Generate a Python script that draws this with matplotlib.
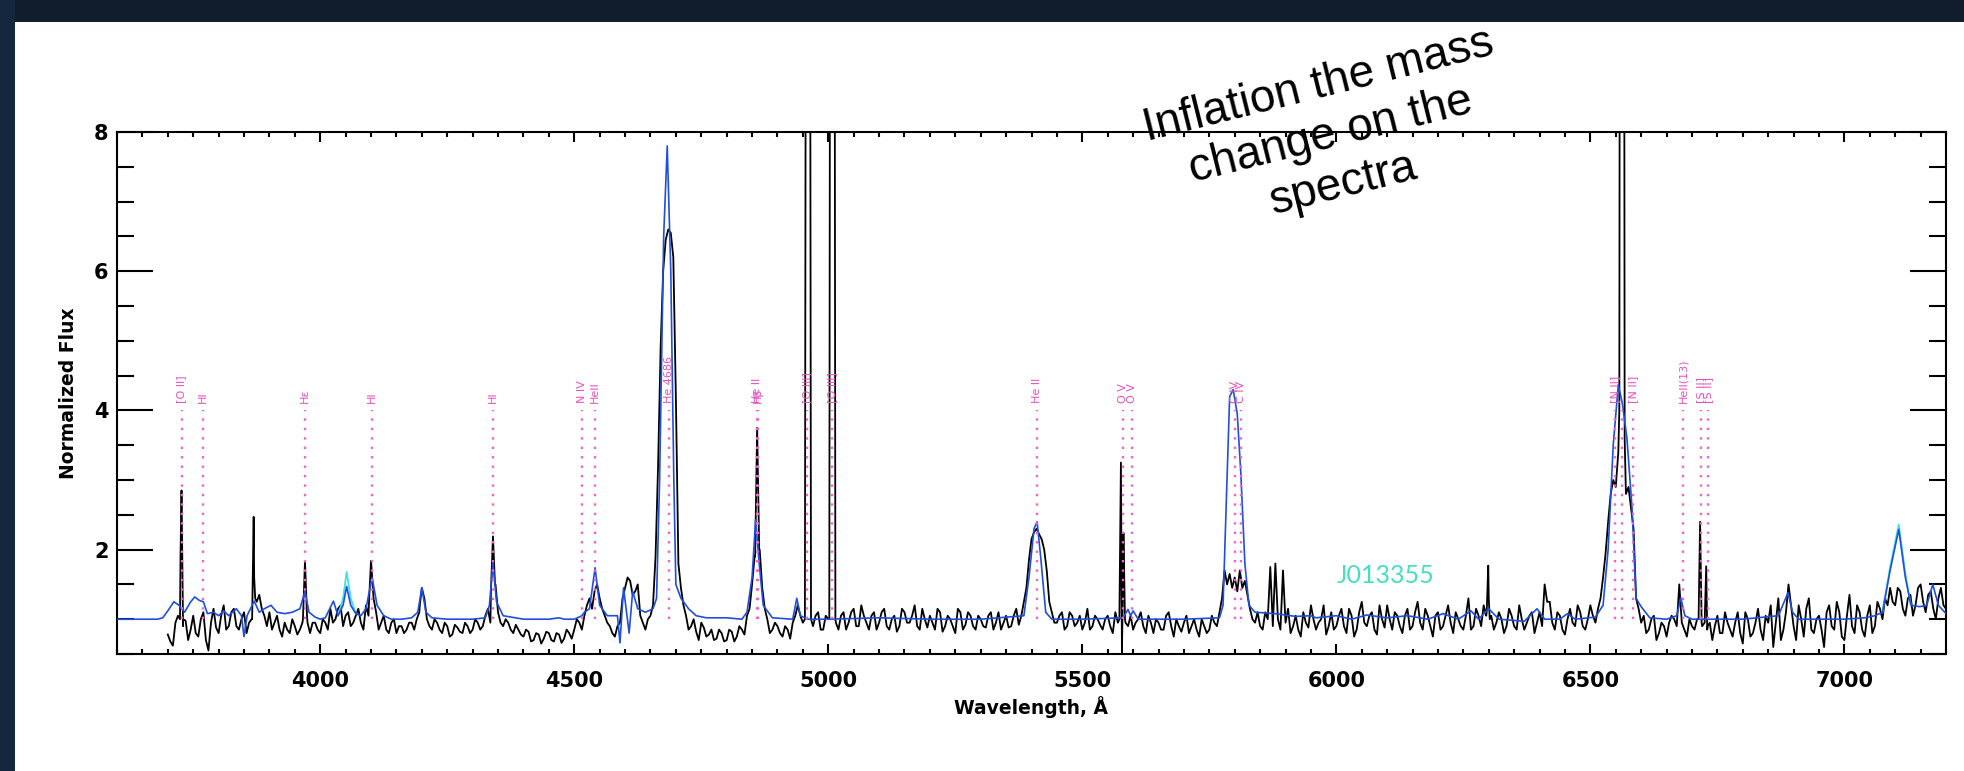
import matplotlib
matplotlib.use("Agg")
import matplotlib.pyplot as plt
from matplotlib.patches import Rectangle
from matplotlib.ticker import MultipleLocator
import numpy as np

# observed spectrum, 10 A grid from 3700 to 7200
grid_start, grid_step = 3700, 10
black_grid = [
    0.78, 0.62, 1.05, 0.90, 0.70, 1.05, 0.75, 1.10, 0.55, 1.15,   # 3700
    0.80, 1.20, 0.90, 1.15, 0.85, 1.10, 0.95, 1.60, 1.35, 1.05,   # 3800
    1.10, 0.95, 0.85, 0.95, 0.80, 0.90, 0.85, 1.83, 0.80, 0.95,   # 3900
    0.80, 0.95, 1.15, 1.00, 1.20, 1.05, 0.90, 1.05, 0.95, 1.20,   # 4000
    1.84, 1.10, 0.95, 0.85, 0.95, 0.80, 0.90, 0.85, 0.95, 1.00,   # 4100
    1.45, 1.00, 0.85, 0.95, 0.80, 0.90, 0.78, 0.88, 0.80, 0.90,   # 4200
    0.85, 0.95, 0.90, 1.15, 2.19, 1.10, 0.90, 0.95, 0.80, 0.85,   # 4300
    0.75, 0.82, 0.70, 0.78, 0.72, 0.80, 0.68, 0.78, 0.72, 0.80,   # 4400
    0.85, 0.95, 1.05, 1.30, 1.40, 1.30, 1.05, 0.90, 0.75, 0.95,   # 4500
    1.45, 1.55, 1.40, 1.05, 0.85, 1.05, 1.90, 4.90, 6.45, 6.55,   # 4600
    4.20, 1.45, 1.05, 0.90, 0.82, 0.95, 0.75, 0.85, 0.72, 0.80,   # 4700
    0.70, 0.82, 0.75, 0.85, 1.05, 1.50, 3.75, 1.45, 1.00, 0.85,   # 4800
    0.90, 0.75, 0.85, 0.95, 1.20, 0.95, 12.0, 0.90, 1.10, 0.85,   # 4900
    1.00, 14.0, 0.85, 1.10, 0.95, 1.15, 0.90, 1.05, 0.85, 1.10,   # 5000
    0.95, 1.15, 0.85, 1.05, 0.90, 1.10, 0.95, 1.20, 0.85, 1.00,   # 5100
    1.05, 0.85, 1.10, 0.90, 1.00, 0.80, 1.10, 0.92, 1.05, 0.85,   # 5200
    1.00, 0.88, 1.10, 0.95, 0.85, 1.05, 0.90, 1.15, 1.05, 1.45,   # 5300
    2.15, 2.30, 2.15, 1.70, 1.10, 0.95, 1.10, 0.90, 1.05, 0.95,   # 5400
    0.85, 1.15, 0.90, 1.00, 0.85, 1.05, 0.80, 0.95, 1.50, 0.90,   # 5500
    0.85, 1.00, 0.90, 1.05, 0.80, 0.95, 0.85, 1.10, 0.75, 0.90,   # 5600
    0.95, 0.80, 1.00, 0.75, 0.90, 0.85, 0.95, 1.10, 1.70, 1.65,   # 5700
    1.60, 1.70, 1.55, 1.15, 0.95, 0.90, 1.10, 1.75, 1.80, 0.85,   # 5800
    0.95, 0.80, 1.05, 0.75, 0.95, 1.20, 0.85, 1.00, 0.78, 1.10,   # 5900
    0.90, 1.15, 0.80, 1.05, 0.85, 1.25, 0.90, 1.10, 0.78, 1.00,   # 6000
    1.20, 0.85, 1.05, 0.80, 1.15, 0.90, 1.25, 0.85, 1.05, 0.75,   # 6100
    1.10, 0.90, 1.20, 0.80, 1.00, 0.85, 1.30, 0.90, 1.05, 1.20,   # 6200
    1.30, 0.85, 1.10, 0.80, 1.15, 0.90, 1.20, 0.85, 1.05, 0.80,   # 6300
    1.10, 1.50, 1.25, 0.85, 1.05, 0.78, 1.15, 0.90, 1.10, 0.85,   # 6400
    1.20, 0.95, 1.30, 1.95, 2.80, 2.90, 15.0, 2.80, 2.60, 1.30,   # 6500
    0.95, 0.80, 1.00, 0.70, 0.95, 0.75, 1.05, 0.90, 0.95, 0.75,   # 6600
    0.90, 1.00, 0.90, 0.85, 0.70, 1.05, 0.80, 0.95, 0.75, 1.10,   # 6700
    0.65, 1.00, 0.80, 1.15, 0.70, 0.95, 0.60, 1.30, 0.85, 1.50,   # 6800
    0.90, 1.20, 0.75, 1.30, 0.80, 1.05, 0.60, 1.20, 0.85, 1.10,   # 6900
    0.70, 1.35, 0.80, 1.10, 0.75, 1.20, 0.90, 1.15, 1.30, 1.45,   # 7000
    1.20, 1.40, 1.05, 1.35, 1.20, 1.50, 1.10, 1.40, 1.00, 1.45,   # 7100
    1.15,
]

# observed spectrum, in-between samples at 3705, 3715, ... 7195
mid_start = 3705
black_mid = [
    0.68, 0.95, 1.90, 0.98, 0.85, 0.80, 1.00, 0.70, 0.95, 0.88,   # 3705
    1.05, 0.85, 1.10, 0.90, 1.00, 0.80, 1.00, 1.25, 1.15, 0.90,   # 3805
    0.85, 1.05, 0.75, 0.85, 1.00, 0.78, 0.95, 0.95, 0.95, 0.85,   # 3905
    1.00, 0.85, 0.95, 1.15, 0.90, 1.10, 0.95, 1.15, 0.85, 1.05,   # 4005
    1.30, 0.85, 1.05, 0.80, 1.00, 0.90, 0.80, 0.95, 0.85, 1.10,   # 4105
    1.30, 0.90, 1.00, 0.85, 0.95, 0.75, 0.92, 0.82, 0.95, 0.80,   # 4205
    1.00, 0.85, 1.05, 0.95, 1.50, 0.95, 1.00, 0.85, 0.92, 0.78,   # 4305
    0.85, 0.68, 0.80, 0.65, 0.82, 0.70, 0.80, 0.66, 0.85, 0.72,   # 4405
    1.00, 0.85, 1.20, 1.15, 1.50, 1.15, 0.95, 0.80, 0.90, 1.30,   # 4505
    1.60, 1.35, 1.50, 0.95, 1.00, 1.20, 3.20, 6.00, 6.60, 6.20,   # 4605
    1.80, 1.20, 0.85, 1.00, 0.70, 0.88, 0.78, 0.70, 0.85, 0.68,   # 4705
    0.85, 0.68, 0.90, 0.78, 1.15, 1.90, 2.00, 1.15, 0.80, 0.95,   # 4805
    0.80, 0.90, 0.72, 1.05, 1.05, 6.50, 6.50, 1.05, 0.85, 1.05,   # 4905
    14.0, 0.95, 1.05, 0.85, 1.10, 0.90, 1.20, 0.95, 1.05, 0.85,   # 5005
    1.10, 0.90, 1.00, 0.82, 1.15, 0.95, 1.05, 0.90, 1.15, 0.88,   # 5105
    0.95, 1.15, 0.82, 1.05, 0.90, 1.15, 0.85, 1.10, 0.90, 1.05,   # 5205
    0.90, 1.05, 0.85, 1.10, 0.95, 0.88, 1.05, 0.92, 1.25, 1.85,   # 5305
    2.25, 2.22, 2.00, 1.25, 0.95, 1.05, 0.85, 1.10, 0.90, 1.05,   # 5405
    0.95, 0.85, 1.05, 0.92, 1.00, 0.90, 1.10, 2.50, 0.95, 1.05,   # 5505
    0.95, 1.10, 0.80, 0.95, 1.00, 0.85, 1.05, 0.90, 1.00, 0.82,   # 5605
    1.05, 0.90, 0.85, 1.00, 0.80, 1.05, 0.90, 1.30, 1.50, 1.45,   # 5705
    1.40, 1.45, 1.35, 1.00, 1.10, 0.85, 1.00, 0.90, 1.00, 1.70,   # 5805
    1.15, 0.90, 0.85, 1.10, 0.88, 1.00, 0.95, 1.20, 0.90, 0.85,   # 5905
    1.05, 0.90, 1.15, 0.75, 1.10, 0.95, 1.05, 0.85, 1.20, 0.88,   # 6005
    1.00, 1.10, 0.90, 1.05, 0.85, 1.10, 0.95, 1.15, 0.90, 1.05,   # 6105
    0.85, 1.05, 0.95, 1.10, 0.90, 1.05, 0.85, 1.15, 0.90, 1.05,   # 6205
    1.05, 0.95, 1.00, 0.90, 1.05, 0.85, 1.00, 0.95, 1.10, 0.95,   # 6305
    0.90, 1.25, 0.95, 1.10, 0.85, 1.00, 0.95, 1.20, 0.90, 1.00,   # 6405
    1.05, 1.15, 1.60, 2.40, 3.00, 3.40, 15.0, 2.90, 2.30, 1.15,   # 6505
    1.05, 0.85, 1.05, 0.80, 0.90, 0.95, 1.00, 1.50, 0.85, 1.00,   # 6605
    0.85, 1.90, 0.95, 0.95, 0.90, 0.80, 1.10, 0.85, 0.95, 0.80,   # 6705
    1.10, 0.75, 0.95, 0.85, 1.05, 1.20, 0.95, 0.70, 1.10, 1.20,   # 6805
    0.70, 1.00, 1.15, 0.85, 1.00, 0.85, 1.10, 0.90, 1.25, 0.75,   # 6905
    1.05, 0.90, 1.20, 0.85, 1.05, 0.80, 1.25, 1.00, 1.20, 1.25,   # 7005
    1.45, 1.15, 1.30, 1.05, 1.45, 1.25, 1.35, 1.15, 1.30, 1.20,   # 7105
]

# extra samples on the narrow emission lines
black_line_wave = [3724, 3727, 3730, 3866, 3869, 3872, 3966, 3974, 4096, 4105,
                   4196, 4205, 4336, 4344, 4655, 4665, 4675, 4685, 4695, 4705,
                   4715, 4856, 4864, 4954, 4956, 4964, 4966, 5002, 5004, 5012,
                   5014, 5385, 5395, 5405, 5415, 5425, 5435, 5573, 5576, 5578,
                   5581, 5584, 5775, 5785, 5795, 5805, 5815, 5825, 5875, 5885,
                   5895, 6296, 6299, 6302, 6525, 6535, 6545, 6555, 6557, 6558.5,
                   6566, 6567.5, 6575, 6585, 6595, 6675, 6713, 6716, 6719, 6725,
                   6728, 6731]
black_line_flux = [1.00, 2.85, 1.00, 1.00, 2.47, 1.30, 1.00, 1.05, 1.25, 1.30,
                   1.20, 1.30, 1.40, 1.50, 1.20, 3.20, 6.00, 6.60, 6.20, 1.80,
                   1.20, 1.90, 2.00, 1.00, 12.0, 12.0, 1.00, 1.00, 14.0, 14.0,
                   1.00, 1.25, 1.85, 2.25, 2.22, 2.00, 1.25, 1.00, 3.25, 0.52,
                   2.24, 1.00, 1.30, 1.50, 1.45, 1.40, 1.45, 1.35, 0.90, 1.00,
                   1.70, 1.10, 1.77, 1.00, 1.60, 2.40, 3.00, 3.40, 4.00, 15.0,
                   15.0, 3.60, 2.90, 2.30, 1.15, 1.50, 1.00, 2.40, 0.95, 0.95,
                   1.76, 0.90]

# model spectrum (blue)
model_wave = [3600, 3680, 3690, 3700, 3712, 3722, 3733, 3745, 3753, 3762,
              3770, 3778, 3790, 3800, 3810, 3820, 3835, 3845, 3850, 3856,
              3870, 3880, 3890, 3903, 3915, 3930, 3945, 3960, 3970, 3978,
              3990, 4000, 4010, 4026, 4035, 4045, 4052, 4060, 4070, 4080,
              4090, 4102, 4112, 4125, 4140, 4160, 4180, 4192, 4200, 4208,
              4220, 4250, 4300, 4325, 4333, 4340, 4347, 4360, 4400, 4450,
              4470, 4480, 4500, 4515, 4520, 4530, 4541, 4550, 4565, 4585,
              4590, 4597, 4603, 4608, 4615, 4625, 4640, 4655, 4662, 4668,
              4676, 4683, 4690, 4696, 4700, 4710, 4725, 4740, 4760, 4800,
              4830, 4840, 4850, 4857, 4864, 4872, 4890, 4930, 4938, 4945,
              4960, 5000, 5100, 5200, 5300, 5385, 5395, 5405, 5411, 5418,
              5428, 5440, 5500, 5580, 5590, 5595, 5600, 5610, 5700, 5770,
              5777, 5783, 5790, 5797, 5805, 5812, 5820, 5828, 5840, 5880,
              5920, 5950, 5960, 6000, 6030, 6060, 6100, 6140, 6180, 6210,
              6240, 6265, 6280, 6300, 6320, 6370, 6395, 6410, 6440, 6455,
              6470, 6510, 6525, 6535, 6545, 6555, 6563, 6572, 6582, 6590,
              6600, 6617, 6650, 6670, 6678, 6686, 6700, 6800, 6870, 6889,
              6898, 6910, 7000, 7040, 7060, 7075, 7090, 7107, 7120, 7131,
              7148, 7162, 7174, 7185, 7200]
model_flux = [1.00, 1.00, 1.02, 1.12, 1.25, 1.20, 1.10, 1.25, 1.32, 1.27,
              1.25, 1.08, 1.10, 1.05, 1.12, 1.05, 1.15, 1.05, 0.75, 1.05,
              1.26, 1.10, 1.15, 1.20, 1.10, 1.08, 1.10, 1.15, 1.40, 1.10,
              1.03, 1.00, 1.02, 1.26, 1.05, 1.20, 1.47, 1.20, 1.08, 1.05,
              1.15, 1.60, 1.20, 1.05, 1.00, 1.00, 1.02, 1.10, 1.45, 1.10,
              1.02, 1.00, 1.00, 1.02, 1.20, 1.81, 1.25, 1.05, 1.00, 1.00,
              1.02, 1.00, 1.00, 1.05, 1.10, 1.15, 1.74, 1.20, 1.05, 1.05,
              0.66, 1.45, 1.10, 0.80, 1.40, 1.15, 1.10, 1.15, 1.30, 3.00,
              6.50, 7.80, 6.00, 3.00, 1.50, 1.30, 1.15, 1.05, 1.02, 1.02,
              1.00, 1.10, 1.60, 2.43, 1.80, 1.20, 1.02, 1.00, 1.30, 1.05,
              1.00, 1.00, 1.02, 1.00, 1.00, 1.05, 1.60, 2.30, 2.40, 1.90,
              1.10, 1.00, 1.00, 1.02, 1.14, 1.05, 1.12, 1.00, 1.00, 1.02,
              1.20, 2.60, 4.20, 4.30, 3.95, 3.10, 1.80, 1.20, 1.10, 1.08,
              1.04, 1.05, 1.02, 1.05, 1.00, 1.06, 1.02, 1.05, 1.00, 1.08,
              1.00, 1.12, 1.00, 1.15, 1.00, 0.97, 1.15, 1.00, 1.00, 1.08,
              1.00, 1.03, 1.20, 2.00, 3.50, 4.37, 4.10, 3.60, 2.60, 1.30,
              1.18, 1.02, 1.00, 1.05, 1.31, 1.05, 1.00, 1.00, 1.05, 1.38,
              1.10, 1.00, 1.00, 1.02, 1.05, 1.10, 1.70, 2.29, 1.60, 1.20,
              1.18, 1.20, 1.50, 1.20, 1.08]

# second model (cyan), only where it departs from the blue one
cyan_wave_a = [4035, 4045, 4052, 4060, 4070]
cyan_flux_a = [1.05, 1.30, 1.68, 1.30, 1.08]
cyan_wave_b = [7075, 7090, 7107, 7120, 7131]
cyan_flux_b = [1.10, 1.75, 2.36, 1.65, 1.20]

# line identifications
id_wave = [3727, 3770, 3970, 4102, 4340, 4515, 4541, 4686, 4859, 4861,
           4959, 5007, 5411, 5580, 5598, 5801, 5812, 6548, 6563, 6584,
           6683, 6717, 6731]
id_label = ['[O II]', 'HI', 'Hε', 'HI', 'HI', 'N IV', 'HeII', 'He 4686', 'He II', 'Hβ',
            '[O III]', '[O III]', 'He II', 'O V', 'O V', 'C IV', 'C IV', '[N II]', '', '[N II]',
            'HeII(13)', '[S II]', '[S II]']

x_ticks = [4000, 4500, 5000, 5500, 6000, 6500, 7000]
y_ticks = [2, 4, 6, 8]

# merge all samples of the observed spectrum
grid_wave = grid_start + grid_step * np.arange(len(black_grid))
mid_wave = mid_start + grid_step * np.arange(len(black_mid))
obs_wave = np.concatenate([grid_wave, mid_wave, black_line_wave])
obs_flux = np.concatenate([black_grid, black_mid, black_line_flux])
order = np.argsort(obs_wave, kind='stable')
obs_wave, obs_flux = obs_wave[order], obs_flux[order]

fig = plt.figure(figsize=(19.65, 7.71), dpi=100)
fig.patch.set_facecolor('white')
# dark frame strips (slide background)
fig.add_artist(Rectangle((0, 1 - 22 / 771), 1, 22 / 771, transform=fig.transFigure,
                         facecolor='#0f1d2d', edgecolor='none', zorder=0))
fig.add_artist(Rectangle((0, 0), 15 / 1965, 1, transform=fig.transFigure,
                         facecolor='#14273e', edgecolor='none', zorder=0))

ax = fig.add_axes([117 / 1965, 1 - 654 / 771, 1829 / 1965, 522 / 771])

ax.plot(obs_wave, obs_flux, color='black', lw=1.3, zorder=2)
ax.plot(cyan_wave_a, cyan_flux_a, color='#3fe0e6', lw=1.3, zorder=3)
ax.plot(cyan_wave_b, cyan_flux_b, color='#3fe0e6', lw=1.3, zorder=3)
ax.plot(model_wave, model_flux, color='#1f4fdc', lw=1.2, zorder=4)

for w, lab in zip(id_wave, id_label):
    ax.plot([w, w], [1.0, 4.0], color='#f064c8', lw=1.7, ls=(0, (1, 3)), zorder=5)
    if lab:
        ax.text(w, 4.1, lab, rotation=90, ha='center', va='bottom', fontsize=8,
                color='#e850c0', zorder=6)

ax.text(6000, 1.63, 'J013355', color='#45dfc0', fontsize=18, family=['Lato', 'DejaVu Sans'],
        ha='left', va='center', zorder=6)

ax.set_xlim(3600, 7200)
ax.set_ylim(0.5, 8)
ax.set_xticks(x_ticks)
ax.set_yticks(y_ticks)
ax.xaxis.set_minor_locator(MultipleLocator(50))
ax.yaxis.set_minor_locator(MultipleLocator(0.5))
ax.tick_params(which='both', direction='in', top=True, right=True, width=1.5)
ax.tick_params(axis='x', which='major', length=7, pad=12)
ax.tick_params(axis='x', which='minor', length=3.6)
ax.tick_params(axis='y', which='major', length=26, pad=6)
ax.tick_params(axis='y', which='minor', length=12)
for lab in ax.get_xticklabels() + ax.get_yticklabels():
    lab.set_fontsize(15)
    lab.set_fontweight('bold')
for sp in ax.spines.values():
    sp.set_linewidth(1.5)

fig.text(1031 / 1965, 1 - 707 / 771, 'Wavelength, Å', ha='center', va='center',
         fontsize=13.5, fontweight='bold')
fig.text(69 / 1965, 1 - 393 / 771, 'Normalized Flux', rotation=90, ha='center', va='center',
         fontsize=13.5, fontweight='bold')

fig.text(1331 / 1965, 1 - 135 / 771, 'Inflation the mass\nchange on the\nspectra',
         rotation=14, rotation_mode='anchor', ha='center', va='center', multialignment='center',
         fontsize=33, family=['Liberation Sans', 'DejaVu Sans'], color='black', zorder=10)

fig.savefig('out.png', dpi=100)
